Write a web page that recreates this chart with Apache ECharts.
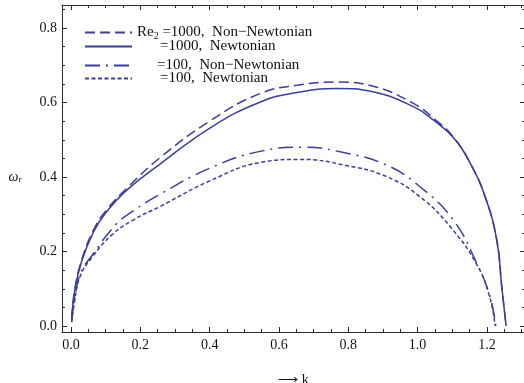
<!DOCTYPE html>
<html>
<head>
<meta charset="utf-8">
<script src="https://cdn.jsdelivr.net/npm/echarts@6/dist/echarts.min.js"></script>
<style>
html,body{margin:0;padding:0;background:#fff;}
#c{width:524px;height:383px;}
</style>
</head>
<body>
<div id="c"></div>
<script>
// ---- data ----
const kRe1000 = [0.002, 0.01, 0.03, 0.066, 0.101, 0.161, 0.257, 0.403, 0.545, 0.656, 0.767, 0.867, 0.988, 1.05, 1.103, 1.152, 1.195, 1.2285, 1.243, 1.2555];
const wRe1000NonNewt = [0.02, 0.095, 0.175, 0.26, 0.31, 0.37, 0.452, 0.552, 0.624, 0.647, 0.655, 0.645, 0.598, 0.555, 0.508, 0.437, 0.347, 0.231, 0.105, 0.0];
const wRe1000Newt = [0.015, 0.09, 0.172, 0.255, 0.305, 0.365, 0.435, 0.533, 0.601, 0.628, 0.638, 0.63, 0.589, 0.55, 0.506, 0.437, 0.347, 0.231, 0.105, 0.0];

const kRe100NonNewt = [0.002, 0.01, 0.027, 0.061, 0.128, 0.176, 0.257, 0.401, 0.545, 0.67, 0.79, 0.911, 1.007, 1.103, 1.171, 1.209, 1.2257];
const wRe100NonNewt = [0.015, 0.07, 0.141, 0.19, 0.271, 0.307, 0.354, 0.424, 0.469, 0.48, 0.465, 0.432, 0.374, 0.285, 0.168, 0.079, 0.0];

const kRe100Newt = [0.002, 0.01, 0.027, 0.061, 0.117, 0.176, 0.257, 0.401, 0.545, 0.661, 0.79, 0.911, 1.007, 1.094, 1.171, 1.209, 1.2237];
const wRe100Newt = [0.01, 0.065, 0.135, 0.185, 0.244, 0.283, 0.321, 0.39, 0.439, 0.4475, 0.432, 0.401, 0.347, 0.267, 0.165, 0.075, 0.0];

const xMajor = [0.0, 0.2, 0.4, 0.6, 0.8, 1.0, 1.2];
const xMinor = [0.05, 0.1, 0.15, 0.25, 0.3, 0.35, 0.45, 0.5, 0.55, 0.65, 0.7, 0.75, 0.85, 0.9, 0.95, 1.05, 1.1, 1.15, 1.25, 1.3];
const yMajor = [0.0, 0.2, 0.4, 0.6, 0.8];
const yMinor = [0.05, 0.1, 0.15, 0.25, 0.3, 0.35, 0.45, 0.5, 0.55, 0.65, 0.7, 0.75, 0.85];

const names = ['Re1000 Non-Newtonian', 'Re1000 Newtonian', 'Re100 Non-Newtonian', 'Re100 Newtonian'];

function zip(xs, ys) { return xs.map((x, i) => [x, ys[i]]); }

const COLOR = '#3d3d9c';
const FRAME = '#2a2a2a';
const SERIF = '"Liberation Serif", "Times New Roman", serif';
const X_MIN = -0.026, X_MAX = 1.31, Y_MIN = -0.016, Y_MAX = 0.862;

function xAx(pos, vals, len, line, labels) {
  return {
    type: 'value', position: pos, min: X_MIN, max: X_MAX, gridIndex: 0,
    axisLine: { show: line, onZero: false, lineStyle: { color: FRAME, width: 1 } },
    axisTick: { show: true, inside: true, length: len, customValues: vals, lineStyle: { color: FRAME, width: 1 } },
    axisLabel: labels ? { show: true, customValues: vals, formatter: v => v.toFixed(1), fontFamily: SERIF, fontSize: 14, color: '#111', margin: 6 } : { show: false },
    splitLine: { show: false }
  };
}
function yAx(pos, vals, len, line, labels) {
  return {
    type: 'value', position: pos, min: Y_MIN, max: Y_MAX, gridIndex: 0,
    axisLine: { show: line, onZero: false, lineStyle: { color: FRAME, width: 1 } },
    axisTick: { show: true, inside: true, length: len, customValues: vals, lineStyle: { color: FRAME, width: 1 } },
    axisLabel: labels ? { show: true, customValues: vals, formatter: v => v.toFixed(1), fontFamily: SERIF, fontSize: 14, color: '#111', margin: 5 } : { show: false },
    splitLine: { show: false }
  };
}

const xAxes = [xAx('bottom', xMajor, 5, true, true), xAx('bottom', xMinor, 3, false, false), xAx('top', xMajor, 5, true, false), xAx('top', xMinor, 3, false, false)];
xAxes[0].name = '\u27F6 k';
xAxes[0].nameLocation = 'middle';
xAxes[0].nameGap = 41;
xAxes[0].nameTextStyle = { fontFamily: SERIF, fontSize: 14, color: '#111' };

const yAxes = [yAx('left', yMajor, 5, true, true), yAx('left', yMinor, 3, false, false), yAx('right', yMajor, 5, true, false), yAx('right', yMinor, 3, false, false)];
yAxes[0].name = '{w|\u03C9}{r|r}';
yAxes[0].nameLocation = 'middle';
yAxes[0].nameRotate = 0;
yAxes[0].nameGap = 40;
yAxes[0].nameTextStyle = {
  padding: [18, 0, 0, 0],
  rich: {
    w: { fontFamily: SERIF, fontStyle: 'italic', fontSize: 14, color: '#111' },
    r: { fontFamily: SERIF, fontStyle: 'italic', fontSize: 9, color: '#111', padding: [5, 0, 0, 0] }
  }
};

function ser(name, data, type, width) {
  return {
    name: name, type: 'line', data: data, xAxisIndex: 0, yAxisIndex: 0,
    symbol: 'none', showSymbol: false, smooth: 0.45,
    lineStyle: { color: COLOR, width: width, type: type },
    itemStyle: { color: COLOR }, z: 3
  };
}

const richLegend = {
  a: { fontFamily: SERIF, fontSize: 15, color: '#111', lineHeight: 16 },
  s: { fontFamily: SERIF, fontSize: 10, color: '#111', lineHeight: 16, padding: [7, 0, 0, 0] },
  p1: { width: 23 },
  p2: { width: 20 }
};
const legendTexts = [
  '{a|Re}{s|2}{a| =1000,  Non\u2212Newtonian}',
  '{p1|}{a|=1000,  Newtonian}',
  '{p2|}{a|=100,  Non\u2212Newtonian}',
  '{p1|}{a|=100,  Newtonian}'
];
const legendTops = [24, 39, 58, 71];
const legends = names.map((n, i) => ({
  data: [n], left: 84, top: legendTops[i], orient: 'horizontal',
  itemWidth: 47, itemHeight: 14, padding: 0,
  itemStyle: { opacity: 0 },
  formatter: () => legendTexts[i],
  textStyle: { rich: richLegend },
  selectedMode: false
}));

const chart = echarts.init(document.getElementById('c'), null, { renderer: 'canvas' });
chart.setOption({
  animation: false,
  backgroundColor: '#fff',
  grid: { left: 62, top: 5, width: 463, height: 327, containLabel: false, outerBoundsMode: 'none' },
  xAxis: xAxes,
  yAxis: yAxes,
  legend: legends,
  series: [
    ser(names[0], zip(kRe1000, wRe1000NonNewt), [10, 5], 1.5),
    ser(names[1], zip(kRe1000, wRe1000Newt), 'solid', 1.5),
    ser(names[2], zip(kRe100NonNewt, wRe100NonNewt), [15, 6, 2, 6], 1.5),
    ser(names[3], zip(kRe100Newt, wRe100Newt), [4, 2.5], 1.5)
  ]
});
</script>
</body>
</html>
